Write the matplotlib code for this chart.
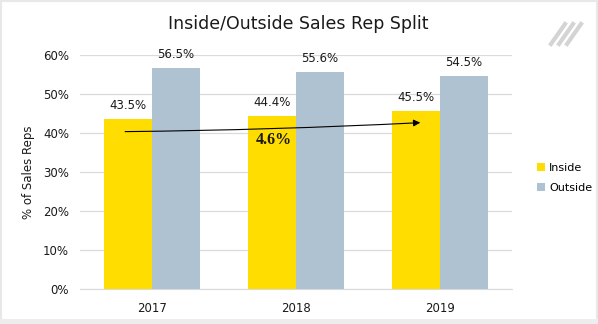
import matplotlib
matplotlib.use("Agg")
import matplotlib.pyplot as plt
import matplotlib.patches as mpatches
import numpy as np

years = ["2017", "2018", "2019"]
inside = [43.5, 44.4, 45.5]
outside = [56.5, 55.6, 54.5]
yticks = [0, 10, 20, 30, 40, 50, 60]

YELLOW = "#FFDD00"
GREY = "#AFC2D1"
GRID = "#DADADA"
TXT = "#1a1a1a"

plt.rcParams['font.family'] = ['DejaVu Sans']

fig = plt.figure(figsize=(5.98, 3.24), dpi=100)
fig.patch.set_facecolor("white")
ax = fig.add_axes([80/598, 35/324, 432/598, (289-54.7)/324])

x = np.arange(len(years))
w = 1/3
b1 = ax.bar(x - w/2, inside, width=w, color=YELLOW, label="Inside", zorder=3)
b2 = ax.bar(x + w/2, outside, width=w, color=GREY, label="Outside", zorder=3)

for xi, v in zip(x, inside):
    ax.annotate(f"{v}%", (xi - w/2, v), xytext=(0, 5), textcoords="offset points",
                ha="center", va="bottom", fontsize=8.5, color=TXT)
for xi, v in zip(x, outside):
    ax.annotate(f"{v}%", (xi + w/2, v), xytext=(0, 5), textcoords="offset points",
                ha="center", va="bottom", fontsize=8.5, color=TXT)

# growth arrow
growth = (inside[-1] - inside[0]) / inside[0] * 100
ax.annotate("", xy=(x[-1] - w/2 + 0.03, inside[-1] - 2.9), xytext=(x[0] - w/2 - 0.02, inside[0] - 3.2),
            arrowprops=dict(arrowstyle="-|>", color="black", lw=0.8, mutation_scale=10,
                            connectionstyle="arc3,rad=0.01", shrinkA=0, shrinkB=0), zorder=5)
ax.text(x[1] - w/2 + 0.01, inside[1] - 6.2, f"{growth:.1f}%", ha="center", va="center",
        fontsize=11.5, family="Liberation Serif", fontweight="bold", color=TXT, zorder=5)

ax.set_xlim(-0.5, 2.5)
ax.set_ylim(0, 60)
ax.set_yticks(yticks)
ax.set_yticklabels([f"{t}%" for t in yticks], fontsize=8.5, color=TXT)
ax.set_xticks(x)
ax.set_xticklabels(years, fontsize=8.5, color=TXT)
ax.tick_params(axis="both", length=0, pad=8)
ax.tick_params(axis="x", pad=9)
ax.yaxis.grid(True, color=GRID, lw=0.9, zorder=0)
ax.set_axisbelow(True)
for s in ["top", "right", "left"]:
    ax.spines[s].set_visible(False)
ax.spines["bottom"].set_color(GRID)
ax.set_ylabel("% of Sales Reps", fontsize=8.5, color=TXT, labelpad=6)

fig.text(298/598, 1 - 24/324, "Inside/Outside Sales Rep Split", ha="center", va="center",
         fontsize=12.5, color=TXT)

leg = fig.legend(handles=[b1, b2], loc="center left", bbox_to_anchor=(527/598, 1 - 178/324),
                 frameon=False, fontsize=8, handlelength=0.7, handleheight=0.7,
                 handletextpad=0.4, labelspacing=0.9)

# decorative logo stripes
for i in range(3):
    x0 = 551/598 + i * 8/598
    fig.add_artist(plt.Line2D([x0, x0 + 14/598], [1 - 44/324, 1 - 24/324],
                              color="#D4D4D4", lw=3, transform=fig.transFigure))

# border
fig.add_artist(mpatches.Rectangle((0, 0), 1, 1, transform=fig.transFigure, fill=False,
                                  edgecolor="#E8E8E8", lw=3))
fig.add_artist(mpatches.Rectangle((0, 0), 1, 5/324, transform=fig.transFigure,
                                  facecolor="#EDEDED", edgecolor="none"))

fig.savefig("out.png", dpi=100)
